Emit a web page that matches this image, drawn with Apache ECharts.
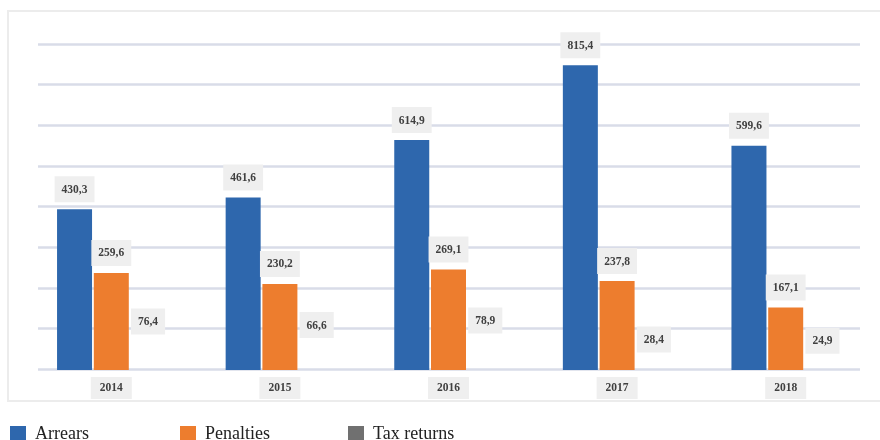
<!DOCTYPE html>
<html>
<head>
<meta charset="utf-8">
<script src="https://cdn.jsdelivr.net/npm/echarts@6/dist/echarts.min.js"></script>
<style>html,body{margin:0;padding:0;background:#fff}#c{width:880px;height:440px}</style>
</head>
<body>
<div id="c"></div>
<script>
var categories = ['2014', '2015', '2016', '2017', '2018'];
var arrears = [430.3, 461.6, 614.9, 815.4, 599.6];
var penalties = [259.6, 230.2, 269.1, 237.8, 167.1];
var taxReturns = [76.4, 66.6, 78.9, 28.4, 24.9];
var seriesNames = ['Arrears', 'Penalties', 'Tax returns'];
var seriesColors = ['#2e67ad', '#ed7d2e', '#707070'];

var chart = echarts.init(document.getElementById('c'));
var labelCfg = {
  show: true,
  position: 'top',
  distance: 7,
  formatter: function (p) { return String(p.value).replace('.', ','); },
  color: '#404040',
  fontFamily: 'Liberation Serif',
  fontWeight: 'bold',
  fontSize: 11.5,
  lineHeight: 13,
  backgroundColor: '#efefef',
  padding: [7, 7, 6, 7]
};
function legendAt(i, left) {
  return {
    left: left, top: 425, padding: 0, itemWidth: 16, itemHeight: 16, icon: 'rect',
    data: [{ name: seriesNames[i], itemStyle: { color: seriesColors[i] } }],
    textStyle: { fontFamily: 'Liberation Serif', fontSize: 18, color: '#222', padding: [0, 0, 0, 4] },
    selectedMode: false
  };
}
chart.setOption({
  animation: false,
  graphic: [{
    type: 'rect', z: -10,
    shape: { x: 8, y: 11, width: 900, height: 390 },
    style: { fill: 'none', stroke: '#ececec', lineWidth: 2 }
  }],
  legend: [legendAt(0, 10), legendAt(1, 180), legendAt(2, 348)],
  grid: [
    { left: 38, width: 822, top: 44, height: 325 },
    { left: 27, width: 843, top: 44, height: 326 }
  ],
  xAxis: [
    { gridIndex: 0, type: 'value', min: 0, max: 1, show: false },
    {
      gridIndex: 1, type: 'category', data: categories,
      axisLine: { show: false }, axisTick: { show: false },
      axisLabel: {
        margin: 7, color: '#404040', fontFamily: 'Liberation Serif', fontWeight: 'bold',
        fontSize: 11.5, lineHeight: 13, backgroundColor: '#efefef', padding: [5, 9, 4, 9]
      }
    }
  ],
  yAxis: [
    {
      gridIndex: 0, type: 'value', min: 0, max: 8, interval: 1,
      axisLine: { show: false }, axisTick: { show: false }, axisLabel: { show: false },
      splitLine: { show: true, lineStyle: { color: '#d9dce8', width: 2.5 } }
    },
    {
      gridIndex: 1, type: 'value', min: 0, max: 872,
      axisLine: { show: false }, axisTick: { show: false }, axisLabel: { show: false },
      splitLine: { show: false }
    }
  ],
  series: [
    { name: seriesNames[0], type: 'bar', xAxisIndex: 1, yAxisIndex: 1, data: arrears,
      barWidth: 35, barGap: '5%', itemStyle: { color: seriesColors[0] }, label: labelCfg },
    { name: seriesNames[1], type: 'bar', xAxisIndex: 1, yAxisIndex: 1, data: penalties,
      barWidth: 35, barGap: '5%', itemStyle: { color: seriesColors[1] }, label: labelCfg },
    { name: seriesNames[2], type: 'bar', xAxisIndex: 1, yAxisIndex: 1, data: taxReturns,
      barWidth: 35, barGap: '5%', itemStyle: { color: 'rgba(0,0,0,0)' }, label: labelCfg }
  ]
});
</script>
</body>
</html>
